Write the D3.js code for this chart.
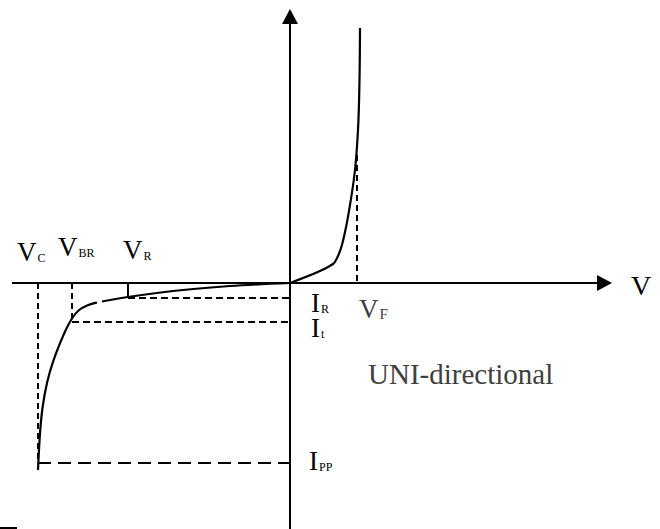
<!DOCTYPE html>
<html>
<head>
<meta charset="utf-8">
<script src="https://cdn.jsdelivr.net/npm/d3@7"></script>
<style>
  html, body { margin: 0; padding: 0; background: #fff; }
  svg { display: block; }
  text { font-family: "Liberation Serif", "Times New Roman", serif; }
</style>
</head>
<body>
<script>
// ---- Data (abstract units) ----
// Forward-bias branch: [voltage, current]
const forwardCurve = [
  [0, 0], [3.8, 1.6], [4.3, 1.9], [4.7, 2.5], [5.1, 3.5], [5.5, 5.1],
  [6.0, 7.8], [6.5, 11.3], [6.8, 15.3], [6.95, 20.3], [7.0, 25.5]
];
// Reverse-bias branch (two pieces, small break near V_BR)
const reverseCurveA = [
  [0, 0], [-6, -0.3], [-11.7, -0.8], [-16.2, -1.4], [-18.8, -1.85]
];
const reverseCurveB = [
  [-19.3, -1.95], [-20.3, -2.2], [-21.2, -2.7], [-21.8, -3.5], [-22.4, -4.6],
  [-23.0, -6.0], [-23.7, -7.8], [-24.3, -9.8], [-24.8, -12.5],
  [-25.05, -15.5], [-25.2, -18.7]
];
// Characteristic voltages
const voltageNames = ["VC", "VBR", "VR", "VF"];
const voltageValues = [-25.2, -21.8, -16.2, 6.7];
// Characteristic currents
const currentNames = ["IR", "It", "IPP"];
const currentValues = [-1.5, -3.9, -18.0];
const forwardMarkerCurrent = 12.8;
// Axis extents
const xAxisExtent = [-27.8, 32.2];
const yAxisExtent = [-24.6, 27.4];
const axisLabel = "V";
const noteText = "UNI-directional";

// ---- Layout ----
const W = 660, H = 529;
const x = d3.scaleLinear().domain([-29, 37]).range([0, 660]);
const y = d3.scaleLinear().domain([28.3, -24.6]).range([0, 529]);

const svg = d3.select("body").append("svg").attr("width", W).attr("height", H);

const V = i => voltageValues[i];
const I = i => currentValues[i];

// dashed guide lines
const g = svg.append("g").attr("fill", "none").attr("stroke", "#000").attr("stroke-width", 2);
g.append("line").attr("x1", x(V(0))).attr("x2", x(V(0))).attr("y1", y(0)).attr("y2", y(I(2)))
  .attr("stroke-dasharray", "6,4");
g.append("line").attr("x1", x(V(1))).attr("x2", x(V(1))).attr("y1", y(0)).attr("y2", y(I(1)))
  .attr("stroke-dasharray", "6,4");
g.append("line").attr("x1", x(V(2))).attr("x2", x(V(2))).attr("y1", y(0)).attr("y2", y(I(0)));
g.append("line").attr("x1", x(V(3))).attr("x2", x(V(3))).attr("y1", y(forwardMarkerCurrent)).attr("y2", y(0))
  .attr("stroke-dasharray", "6,4");
g.append("line").attr("x1", x(V(2))).attr("x2", x(0)).attr("y1", y(I(0))).attr("y2", y(I(0)))
  .attr("stroke-dasharray", "7,4");
g.append("line").attr("x1", x(V(1))).attr("x2", x(0)).attr("y1", y(I(1))).attr("y2", y(I(1)))
  .attr("stroke-dasharray", "7,4");
g.append("line").attr("x1", x(V(0))).attr("x2", x(0)).attr("y1", y(I(2))).attr("y2", y(I(2)))
  .attr("stroke-dasharray", "13,7");

// axes
const ax = svg.append("g").attr("stroke", "#000").attr("stroke-width", 2);
ax.append("line").attr("x1", x(xAxisExtent[0])).attr("x2", x(xAxisExtent[1]) - 12)
  .attr("y1", y(0)).attr("y2", y(0));
ax.append("line").attr("x1", x(0)).attr("x2", x(0))
  .attr("y1", y(yAxisExtent[0])).attr("y2", y(yAxisExtent[1]) + 12);
const tipX = x(xAxisExtent[1]), tipY = y(yAxisExtent[1]);
svg.append("path")
  .attr("d", `M${tipX},${y(0)} L${tipX - 15},${y(0) - 8} L${tipX - 15},${y(0) + 8} Z`)
  .attr("fill", "#000");
svg.append("path")
  .attr("d", `M${x(0)},${tipY} L${x(0) - 8},${tipY + 15} L${x(0) + 8},${tipY + 15} Z`)
  .attr("fill", "#000");

// curves
const lineY = d3.line().x(d => x(d[0])).y(d => y(d[1])).curve(d3.curveMonotoneY);
const lineX = d3.line().x(d => x(d[0])).y(d => y(d[1])).curve(d3.curveMonotoneX);
const lineB = d3.line().x(d => x(d[0])).y(d => y(d[1])).curve(d3.curveBasis);
const cg = svg.append("g").attr("fill", "none").attr("stroke", "#000").attr("stroke-width", 2.2);
cg.append("path").attr("d", lineY(forwardCurve));
cg.append("path").attr("d", lineX(reverseCurveA.slice().reverse()));
cg.append("path").attr("d", lineB(reverseCurveB));

// small stub at bottom-left
svg.append("line").attr("x1", x(-29)).attr("x2", x(-27.3)).attr("y1", y(-24.5)).attr("y2", y(-24.5))
  .attr("stroke", "#000").attr("stroke-width", 2);

// labels
const MAIN = 27, SUB = 12;
function label(px, py, main, sub, color, subSize) {
  const t = svg.append("text").attr("x", px).attr("y", py).attr("fill", color || "#000")
    .attr("font-size", MAIN);
  t.append("tspan").text(main);
  t.append("tspan").attr("font-size", subSize || SUB).attr("dx", 1).attr("dy", 1).text(sub);
}
label(x(V(0)) - 21, y(0) - 22, voltageNames[0][0], voltageNames[0].slice(1));
label(x(V(1)) - 14, y(0) - 27, voltageNames[1][0], voltageNames[1].slice(1));
label(x(V(2)) - 5, y(0) - 24, voltageNames[2][0], voltageNames[2].slice(1));
label(x(V(3)) + 2, y(0) + 35, voltageNames[3][0], voltageNames[3].slice(1), "#404040", 15);
label(x(0) + 21, y(I(0)) + 14, currentNames[0][0], currentNames[0].slice(1));
label(x(0) + 21, y(I(1)) + 15, currentNames[1][0], currentNames[1].slice(1));
label(x(0) + 19, y(I(2)) + 7, currentNames[2][0], currentNames[2].slice(1));

svg.append("text").attr("x", x(xAxisExtent[1]) + 19).attr("y", y(0) + 12)
  .attr("font-size", MAIN + 1).attr("fill", "#000").text(axisLabel);

svg.append("text").attr("x", 368).attr("y", 384)
  .attr("font-size", 29).attr("fill", "#404040").text(noteText);
</script>
</body>
</html>
